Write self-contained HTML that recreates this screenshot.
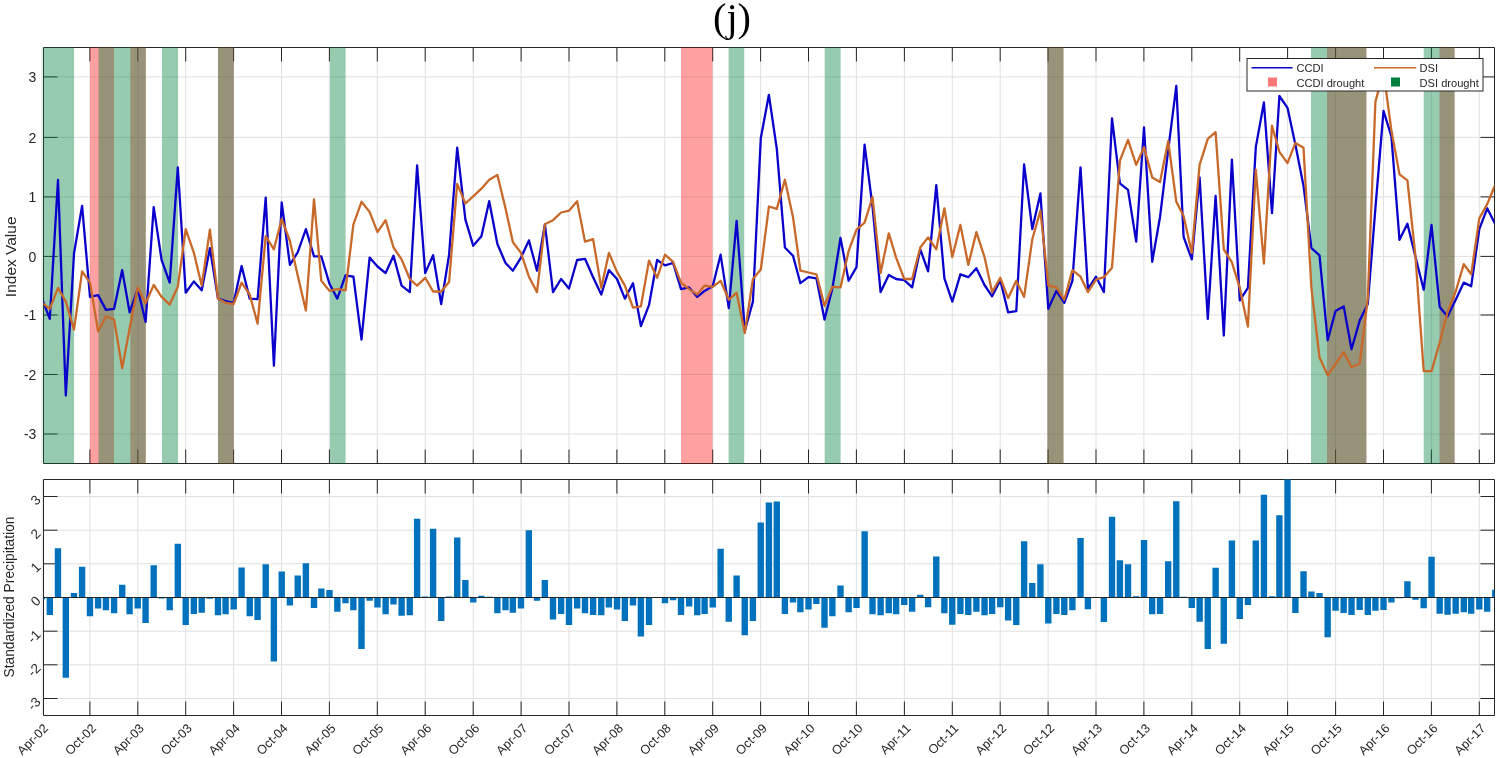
<!DOCTYPE html><html><head><meta charset="utf-8"><style>html,body{margin:0;padding:0;background:#fff;}svg{display:block;will-change:transform;}text{font-family:"Liberation Sans",sans-serif;fill:#262626;}</style></head><body>
<svg width="1498" height="758" viewBox="0 0 1498 758">
<rect width="1498" height="758" fill="#fff"/>
<text x="732" y="31" text-anchor="middle" style="font-family:'Liberation Serif',serif;font-size:40.4px;fill:#000">(j)</text>
<defs><clipPath id="ct"><rect x="43.5" y="47.5" width="1451.0" height="416.0"/></clipPath>
<clipPath id="cb"><rect x="43.5" y="479.5" width="1451.0" height="236.0"/></clipPath></defs>
<path d="M42.0 47.5V463.5M42.0 479.5V715.5M89.9 47.5V463.5M89.9 479.5V715.5M137.8 47.5V463.5M137.8 479.5V715.5M185.7 47.5V463.5M185.7 479.5V715.5M233.6 47.5V463.5M233.6 479.5V715.5M281.5 47.5V463.5M281.5 479.5V715.5M329.4 47.5V463.5M329.4 479.5V715.5M377.3 47.5V463.5M377.3 479.5V715.5M425.2 47.5V463.5M425.2 479.5V715.5M473.2 47.5V463.5M473.2 479.5V715.5M521.1 47.5V463.5M521.1 479.5V715.5M569.0 47.5V463.5M569.0 479.5V715.5M616.9 47.5V463.5M616.9 479.5V715.5M664.8 47.5V463.5M664.8 479.5V715.5M712.7 47.5V463.5M712.7 479.5V715.5M760.6 47.5V463.5M760.6 479.5V715.5M808.5 47.5V463.5M808.5 479.5V715.5M856.4 47.5V463.5M856.4 479.5V715.5M904.4 47.5V463.5M904.4 479.5V715.5M952.3 47.5V463.5M952.3 479.5V715.5M1000.2 47.5V463.5M1000.2 479.5V715.5M1048.1 47.5V463.5M1048.1 479.5V715.5M1096.0 47.5V463.5M1096.0 479.5V715.5M1143.9 47.5V463.5M1143.9 479.5V715.5M1191.8 47.5V463.5M1191.8 479.5V715.5M1239.7 47.5V463.5M1239.7 479.5V715.5M1287.6 47.5V463.5M1287.6 479.5V715.5M1335.6 47.5V463.5M1335.6 479.5V715.5M1383.5 47.5V463.5M1383.5 479.5V715.5M1431.4 47.5V463.5M1431.4 479.5V715.5M1479.3 47.5V463.5M1479.3 479.5V715.5M43.5 434.0H1494.5M43.5 698.5H1494.5M43.5 374.5H1494.5M43.5 664.8H1494.5M43.5 315.0H1494.5M43.5 631.2H1494.5M43.5 256.4H1494.5M43.5 597.5H1494.5M43.5 196.9H1494.5M43.5 563.8H1494.5M43.5 137.4H1494.5M43.5 530.2H1494.5M43.5 76.9H1494.5M43.5 496.5H1494.5" stroke="#e0e0e0" stroke-width="1" fill="none"/>
<path d="M43.5 47.5H1494.5V463.5H43.5ZM89.9 47.5v14M89.9 463.5v-14M137.8 47.5v14M137.8 463.5v-14M185.7 47.5v14M185.7 463.5v-14M233.6 47.5v14M233.6 463.5v-14M281.5 47.5v14M281.5 463.5v-14M329.4 47.5v14M329.4 463.5v-14M377.3 47.5v14M377.3 463.5v-14M425.2 47.5v14M425.2 463.5v-14M473.2 47.5v14M473.2 463.5v-14M521.1 47.5v14M521.1 463.5v-14M569.0 47.5v14M569.0 463.5v-14M616.9 47.5v14M616.9 463.5v-14M664.8 47.5v14M664.8 463.5v-14M712.7 47.5v14M712.7 463.5v-14M760.6 47.5v14M760.6 463.5v-14M808.5 47.5v14M808.5 463.5v-14M856.4 47.5v14M856.4 463.5v-14M904.4 47.5v14M904.4 463.5v-14M952.3 47.5v14M952.3 463.5v-14M1000.2 47.5v14M1000.2 463.5v-14M1048.1 47.5v14M1048.1 463.5v-14M1096.0 47.5v14M1096.0 463.5v-14M1143.9 47.5v14M1143.9 463.5v-14M1191.8 47.5v14M1191.8 463.5v-14M1239.7 47.5v14M1239.7 463.5v-14M1287.6 47.5v14M1287.6 463.5v-14M1335.6 47.5v14M1335.6 463.5v-14M1383.5 47.5v14M1383.5 463.5v-14M1431.4 47.5v14M1431.4 463.5v-14M1479.3 47.5v14M1479.3 463.5v-14M43.5 434.0h14M1494.5 434.0h-14M43.5 374.5h14M1494.5 374.5h-14M43.5 315.0h14M1494.5 315.0h-14M43.5 256.4h14M1494.5 256.4h-14M43.5 196.9h14M1494.5 196.9h-14M43.5 137.4h14M1494.5 137.4h-14M43.5 76.9h14M1494.5 76.9h-14M43.5 479.5H1494.5V715.5H43.5ZM89.9 479.5v14M89.9 715.5v-14M137.8 479.5v14M137.8 715.5v-14M185.7 479.5v14M185.7 715.5v-14M233.6 479.5v14M233.6 715.5v-14M281.5 479.5v14M281.5 715.5v-14M329.4 479.5v14M329.4 715.5v-14M377.3 479.5v14M377.3 715.5v-14M425.2 479.5v14M425.2 715.5v-14M473.2 479.5v14M473.2 715.5v-14M521.1 479.5v14M521.1 715.5v-14M569.0 479.5v14M569.0 715.5v-14M616.9 479.5v14M616.9 715.5v-14M664.8 479.5v14M664.8 715.5v-14M712.7 479.5v14M712.7 715.5v-14M760.6 479.5v14M760.6 715.5v-14M808.5 479.5v14M808.5 715.5v-14M856.4 479.5v14M856.4 715.5v-14M904.4 479.5v14M904.4 715.5v-14M952.3 479.5v14M952.3 715.5v-14M1000.2 479.5v14M1000.2 715.5v-14M1048.1 479.5v14M1048.1 715.5v-14M1096.0 479.5v14M1096.0 715.5v-14M1143.9 479.5v14M1143.9 715.5v-14M1191.8 479.5v14M1191.8 715.5v-14M1239.7 479.5v14M1239.7 715.5v-14M1287.6 479.5v14M1287.6 715.5v-14M1335.6 479.5v14M1335.6 715.5v-14M1383.5 479.5v14M1383.5 715.5v-14M1431.4 479.5v14M1431.4 715.5v-14M1479.3 479.5v14M1479.3 715.5v-14M43.5 698.5h14M1494.5 698.5h-14M43.5 664.8h14M1494.5 664.8h-14M43.5 631.2h14M1494.5 631.2h-14M43.5 597.5h14M1494.5 597.5h-14M43.5 563.8h14M1494.5 563.8h-14M43.5 530.2h14M1494.5 530.2h-14M43.5 496.5h14M1494.5 496.5h-14" stroke="#262626" stroke-width="1" fill="none"/>
<rect x="90.0" y="47.5" width="24.0" height="416.0" fill="#ff0000" fill-opacity="0.37"/>
<rect x="130.3" y="47.5" width="15.5" height="416.0" fill="#ff0000" fill-opacity="0.37"/>
<rect x="218.0" y="47.5" width="15.7" height="416.0" fill="#ff0000" fill-opacity="0.37"/>
<rect x="681.0" y="47.5" width="31.5" height="416.0" fill="#ff0000" fill-opacity="0.37"/>
<rect x="1047.4" y="47.5" width="16.1" height="416.0" fill="#ff0000" fill-opacity="0.37"/>
<rect x="1327.0" y="47.5" width="39.4" height="416.0" fill="#ff0000" fill-opacity="0.37"/>
<rect x="1439.5" y="47.5" width="15.1" height="416.0" fill="#ff0000" fill-opacity="0.37"/>
<rect x="43.2" y="47.5" width="30.9" height="416.0" fill="#00803f" fill-opacity="0.41"/>
<rect x="98.5" y="47.5" width="47.3" height="416.0" fill="#00803f" fill-opacity="0.41"/>
<rect x="162.0" y="47.5" width="16.1" height="416.0" fill="#00803f" fill-opacity="0.41"/>
<rect x="218.0" y="47.5" width="15.7" height="416.0" fill="#00803f" fill-opacity="0.41"/>
<rect x="330.0" y="47.5" width="15.6" height="416.0" fill="#00803f" fill-opacity="0.41"/>
<rect x="728.6" y="47.5" width="15.6" height="416.0" fill="#00803f" fill-opacity="0.41"/>
<rect x="824.7" y="47.5" width="15.9" height="416.0" fill="#00803f" fill-opacity="0.41"/>
<rect x="1047.4" y="47.5" width="16.1" height="416.0" fill="#00803f" fill-opacity="0.41"/>
<rect x="1311.0" y="47.5" width="55.4" height="416.0" fill="#00803f" fill-opacity="0.41"/>
<rect x="1423.7" y="47.5" width="30.9" height="416.0" fill="#00803f" fill-opacity="0.41"/>
<polyline clip-path="url(#ct)" points="42.0,298.6 49.8,318.9 58.0,179.8 65.8,395.5 74.0,253.5 82.1,205.9 90.0,296.9 98.1,295.1 106.0,309.9 114.1,308.8 122.2,270.1 129.6,312.3 137.7,289.1 145.6,321.8 153.7,207.1 161.6,260.0 169.7,282.6 177.8,167.3 185.7,292.7 193.9,281.4 201.7,290.3 209.9,248.1 218.0,298.6 225.6,301.0 233.7,302.8 241.6,266.0 249.7,298.6 257.6,299.2 265.7,197.6 273.9,365.8 281.7,202.4 289.9,264.8 297.7,252.3 305.9,229.1 314.0,256.4 321.3,256.4 329.5,283.8 337.3,298.6 345.5,275.5 353.4,276.7 361.5,339.7 369.6,257.6 377.5,266.5 385.6,273.1 393.5,255.8 401.6,285.6 409.8,292.1 417.1,165.5 425.2,273.1 433.1,255.3 441.2,304.0 449.1,254.7 457.2,147.7 465.4,219.6 473.2,245.7 481.4,236.2 489.2,201.2 497.4,244.0 505.5,263.0 512.9,270.7 521.0,257.6 528.9,240.4 537.0,270.7 544.9,224.3 553.0,292.1 561.1,279.0 569.0,288.5 577.1,260.0 585.0,258.8 593.1,277.2 601.3,294.5 608.9,270.1 617.0,279.0 624.9,298.6 633.0,283.2 640.9,326.0 649.0,305.2 657.1,260.0 665.0,265.4 673.1,263.0 681.0,289.1 689.1,287.4 697.3,296.9 704.6,290.9 712.7,286.2 720.6,254.7 728.8,308.2 736.6,220.8 744.8,330.7 752.9,301.6 760.8,138.2 768.9,94.8 776.8,148.9 784.9,247.5 793.0,255.8 800.4,283.2 808.5,277.2 816.4,278.4 824.5,319.5 832.4,288.5 840.5,238.0 848.6,280.8 856.5,267.1 864.6,144.7 872.5,206.5 880.6,292.1 888.8,274.9 896.1,279.0 904.3,280.2 912.1,287.4 920.3,249.3 928.1,271.3 936.3,185.1 944.4,278.4 952.3,301.6 960.4,274.3 968.3,277.2 976.4,268.3 984.5,285.0 992.1,296.3 1000.3,280.2 1008.1,312.3 1016.3,311.1 1024.1,164.3 1032.3,229.1 1040.4,193.4 1048.3,308.8 1056.4,290.9 1064.3,302.8 1072.4,280.8 1080.5,167.3 1087.9,289.1 1096.0,276.7 1103.9,292.1 1112.0,118.5 1119.9,183.3 1128.0,189.9 1136.2,241.6 1144.0,127.5 1152.2,261.8 1160.0,217.2 1168.2,150.0 1176.3,85.9 1183.6,236.8 1191.8,259.4 1199.6,177.4 1207.8,318.9 1215.6,195.8 1223.8,335.5 1231.9,159.6 1239.8,300.4 1247.9,287.9 1255.8,147.1 1263.9,102.5 1272.0,213.1 1279.4,96.0 1287.5,107.8 1295.4,144.7 1303.5,185.7 1311.4,248.1 1319.5,255.3 1327.7,340.3 1335.5,311.1 1343.7,306.4 1351.5,349.2 1359.7,320.6 1367.8,304.0 1375.4,208.3 1383.5,110.8 1391.4,136.4 1399.5,239.8 1407.4,223.8 1415.5,257.0 1423.7,289.7 1431.5,224.9 1439.7,307.0 1447.5,316.5 1455.7,299.8 1463.8,282.6 1471.2,286.2 1479.3,229.1 1487.2,208.3 1495.3,224.3" fill="none" stroke="#0a00cc" stroke-width="2.3" stroke-linejoin="round"/>
<polyline clip-path="url(#ct)" points="42.0,302.8 49.8,308.8 58.0,287.9 65.8,301.6 74.0,329.6 82.1,271.3 90.0,282.6 98.1,331.3 106.0,316.5 114.1,319.5 122.2,368.2 129.6,328.4 137.7,287.4 145.6,303.4 153.7,285.0 161.6,296.9 169.7,304.6 177.8,286.8 185.7,229.1 193.9,252.9 201.7,285.6 209.9,229.7 218.0,298.6 225.6,302.8 233.7,304.0 241.6,282.6 249.7,294.5 257.6,323.6 265.7,236.2 273.9,249.3 281.7,219.0 289.9,241.0 297.7,275.5 305.9,310.5 314.0,199.4 321.3,280.8 329.5,290.9 337.3,289.1 345.5,290.3 353.4,224.3 361.5,201.8 369.6,211.9 377.5,232.1 385.6,220.2 393.5,247.5 401.6,259.4 409.8,279.0 417.1,285.6 425.2,277.8 433.1,291.5 441.2,291.5 449.1,282.0 457.2,183.9 465.4,203.5 473.2,196.4 481.4,188.7 489.2,179.8 497.4,175.0 505.5,208.3 512.9,242.2 521.0,252.9 528.9,276.7 537.0,292.1 544.9,224.3 553.0,220.2 561.1,212.5 569.0,210.7 577.1,201.2 585.0,241.6 593.1,239.2 601.3,287.9 608.9,252.9 617.0,271.9 624.9,285.6 633.0,307.6 640.9,306.4 649.0,260.6 657.1,277.8 665.0,254.7 673.1,261.8 681.0,282.6 689.1,289.1 697.3,294.5 704.6,285.6 712.7,286.8 720.6,280.8 728.8,299.8 736.6,292.7 744.8,333.1 752.9,279.0 760.8,269.5 768.9,206.5 776.8,208.9 784.9,179.8 793.0,217.2 800.4,270.7 808.5,272.5 816.4,274.3 824.5,305.8 832.4,286.8 840.5,287.4 848.6,251.1 856.5,229.7 864.6,222.6 872.5,197.0 880.6,273.1 888.8,233.3 896.1,257.6 904.3,279.0 912.1,279.0 920.3,247.5 928.1,237.4 936.3,249.3 944.4,208.3 952.3,257.0 960.4,224.9 968.3,264.8 976.4,232.1 984.5,257.0 992.1,292.1 1000.3,277.8 1008.1,298.1 1016.3,280.8 1024.1,296.9 1032.3,239.2 1040.4,210.7 1048.3,285.6 1056.4,287.4 1064.3,299.8 1072.4,270.1 1080.5,276.7 1087.9,292.1 1096.0,279.6 1103.9,277.2 1112.0,267.7 1119.9,160.7 1128.0,139.9 1136.2,164.9 1144.0,147.1 1152.2,177.4 1160.0,182.1 1168.2,141.1 1176.3,201.8 1183.6,216.0 1191.8,252.9 1199.6,164.9 1207.8,138.8 1215.6,132.2 1223.8,249.3 1231.9,262.4 1239.8,287.9 1247.9,326.6 1255.8,169.7 1263.9,263.6 1272.0,125.7 1279.4,151.8 1287.5,163.1 1295.4,142.9 1303.5,147.7 1311.4,287.9 1319.5,357.5 1327.7,375.3 1335.5,364.0 1343.7,352.1 1351.5,367.0 1359.7,364.0 1367.8,298.1 1375.4,101.9 1383.5,71.6 1391.4,130.4 1399.5,174.4 1407.4,180.4 1415.5,257.0 1423.7,371.2 1431.5,371.2 1439.7,342.6 1447.5,312.3 1455.7,291.5 1463.8,264.2 1471.2,274.3 1479.3,218.4 1487.2,204.1 1495.3,184.5" fill="none" stroke="#c8692a" stroke-width="2.3" stroke-linejoin="round"/>
<text x="36.4" y="434.4" text-anchor="end" style="font-size:14px" dominant-baseline="central">-3</text>
<text x="36.4" y="374.9" text-anchor="end" style="font-size:14px" dominant-baseline="central">-2</text>
<text x="36.4" y="315.4" text-anchor="end" style="font-size:14px" dominant-baseline="central">-1</text>
<text x="36.4" y="256.8" text-anchor="end" style="font-size:14px" dominant-baseline="central">0</text>
<text x="36.4" y="197.3" text-anchor="end" style="font-size:14px" dominant-baseline="central">1</text>
<text x="36.4" y="137.8" text-anchor="end" style="font-size:14px" dominant-baseline="central">2</text>
<text x="36.4" y="77.3" text-anchor="end" style="font-size:14px" dominant-baseline="central">3</text>
<text transform="translate(16,256.8) rotate(-90)" text-anchor="middle" style="font-size:15.5px">Index Value</text>
<rect x="1247" y="58.5" width="236" height="32.5" fill="#fff" stroke="#262626" stroke-width="1"/>
<path d="M1251.5 67.7H1292.6" stroke="#0a00cc" stroke-width="1.5"/>
<path d="M1374 67.7H1416.3" stroke="#c8692a" stroke-width="1.5"/>
<rect x="1268" y="77.5" width="9" height="9" fill="#ff7878"/>
<rect x="1391" y="77.5" width="9" height="9" fill="#00803f"/>
<text x="1296.5" y="71.8" style="font-size:11.1px">CCDI</text>
<text x="1419.6" y="71.8" style="font-size:11.1px">DSI</text>
<text x="1296.5" y="87.3" style="font-size:11.1px">CCDI drought</text>
<text x="1419.6" y="87.3" style="font-size:11.1px">DSI drought</text>
<path clip-path="url(#cb)" d="M38.77 597.50h6.38v1.68h-6.38ZM46.64 597.50h6.38v17.51h-6.38ZM54.77 548.34h6.38v49.16h-6.38ZM62.64 597.50h6.38v80.13h-6.38ZM70.77 593.12h6.38v4.38h-6.38ZM78.91 566.86h6.38v30.64h-6.38ZM86.78 597.50h6.38v18.86h-6.38ZM94.91 597.50h6.38v11.11h-6.38ZM102.78 597.50h6.38v12.79h-6.38ZM110.91 597.50h6.38v15.82h-6.38ZM119.04 584.71h6.38v12.79h-6.38ZM126.39 597.50h6.38v16.84h-6.38ZM134.52 597.50h6.38v11.11h-6.38ZM142.39 597.50h6.38v25.59h-6.38ZM150.52 565.18h6.38v32.32h-6.38ZM158.39 597.50h6.38v1.01h-6.38ZM166.53 597.50h6.38v12.79h-6.38ZM174.66 543.63h6.38v53.87h-6.38ZM182.53 597.50h6.38v27.61h-6.38ZM190.66 597.50h6.38v16.50h-6.38ZM198.53 597.50h6.38v15.15h-6.38ZM206.66 597.50h6.38v1.35h-6.38ZM214.80 597.50h6.38v17.85h-6.38ZM222.40 597.50h6.38v16.84h-6.38ZM230.54 597.50h6.38v12.12h-6.38ZM238.41 567.53h6.38v29.97h-6.38ZM246.54 597.50h6.38v18.86h-6.38ZM254.41 597.50h6.38v22.56h-6.38ZM262.54 564.17h6.38v33.33h-6.38ZM270.67 597.50h6.38v63.97h-6.38ZM278.54 571.57h6.38v25.93h-6.38ZM286.68 597.50h6.38v8.08h-6.38ZM294.55 575.61h6.38v21.89h-6.38ZM302.68 563.16h6.38v34.34h-6.38ZM310.81 597.50h6.38v10.44h-6.38ZM318.16 588.41h6.38v9.09h-6.38ZM326.29 590.09h6.38v7.41h-6.38ZM334.16 597.50h6.38v14.14h-6.38ZM342.29 597.50h6.38v5.72h-6.38ZM350.16 597.50h6.38v12.79h-6.38ZM358.29 597.50h6.38v51.52h-6.38ZM366.43 597.50h6.38v3.37h-6.38ZM374.30 597.50h6.38v10.10h-6.38ZM382.43 597.50h6.38v16.84h-6.38ZM390.30 597.50h6.38v7.07h-6.38ZM398.43 597.50h6.38v18.18h-6.38ZM406.56 597.50h6.38v17.85h-6.38ZM413.91 518.71h6.38v78.79h-6.38ZM422.04 596.49h6.38v1.01h-6.38ZM429.91 528.81h6.38v68.69h-6.38ZM438.04 597.50h6.38v23.57h-6.38ZM445.91 596.49h6.38v1.01h-6.38ZM454.04 537.57h6.38v59.93h-6.38ZM462.18 579.99h6.38v17.51h-6.38ZM470.05 597.50h6.38v5.05h-6.38ZM478.18 595.82h6.38v1.68h-6.38ZM486.05 596.83h6.38v0.67h-6.38ZM494.18 597.50h6.38v15.82h-6.38ZM502.31 597.50h6.38v12.79h-6.38ZM509.66 597.50h6.38v15.15h-6.38ZM517.79 597.50h6.38v11.11h-6.38ZM525.66 530.16h6.38v67.34h-6.38ZM533.79 597.50h6.38v3.37h-6.38ZM541.66 579.99h6.38v17.51h-6.38ZM549.80 597.50h6.38v21.89h-6.38ZM557.93 597.50h6.38v16.50h-6.38ZM565.80 597.50h6.38v27.61h-6.38ZM573.93 597.50h6.38v11.11h-6.38ZM581.80 597.50h6.38v15.82h-6.38ZM589.93 597.50h6.38v17.51h-6.38ZM598.07 597.50h6.38v17.85h-6.38ZM605.67 597.50h6.38v10.10h-6.38ZM613.81 597.50h6.38v12.12h-6.38ZM621.68 597.50h6.38v23.57h-6.38ZM629.81 597.50h6.38v8.08h-6.38ZM637.68 597.50h6.38v39.06h-6.38ZM645.81 597.50h6.38v27.61h-6.38ZM653.94 597.50h6.38v0.00h-6.38ZM661.81 597.50h6.38v5.72h-6.38ZM669.95 597.50h6.38v2.69h-6.38ZM677.82 597.50h6.38v17.51h-6.38ZM685.95 597.50h6.38v9.09h-6.38ZM694.08 597.50h6.38v17.85h-6.38ZM701.43 597.50h6.38v16.50h-6.38ZM709.56 597.50h6.38v10.10h-6.38ZM717.43 548.68h6.38v48.82h-6.38ZM725.56 597.50h6.38v24.24h-6.38ZM733.43 575.61h6.38v21.89h-6.38ZM741.56 597.50h6.38v37.71h-6.38ZM749.70 597.50h6.38v23.57h-6.38ZM757.57 522.42h6.38v75.08h-6.38ZM765.70 502.55h6.38v94.95h-6.38ZM773.57 501.54h6.38v95.96h-6.38ZM781.70 597.50h6.38v16.50h-6.38ZM789.83 597.50h6.38v5.05h-6.38ZM797.18 597.50h6.38v14.81h-6.38ZM805.31 597.50h6.38v12.12h-6.38ZM813.18 597.50h6.38v6.40h-6.38ZM821.31 597.50h6.38v30.30h-6.38ZM829.18 597.50h6.38v18.86h-6.38ZM837.32 585.38h6.38v12.12h-6.38ZM845.45 597.50h6.38v14.81h-6.38ZM853.32 597.50h6.38v10.44h-6.38ZM861.45 531.17h6.38v66.33h-6.38ZM869.32 597.50h6.38v16.84h-6.38ZM877.45 597.50h6.38v17.85h-6.38ZM885.58 597.50h6.38v15.82h-6.38ZM892.93 597.50h6.38v16.84h-6.38ZM901.06 597.50h6.38v7.41h-6.38ZM908.93 597.50h6.38v14.14h-6.38ZM917.07 594.81h6.38v2.69h-6.38ZM924.94 597.50h6.38v9.76h-6.38ZM933.07 556.42h6.38v41.08h-6.38ZM941.20 597.50h6.38v15.82h-6.38ZM949.07 597.50h6.38v27.27h-6.38ZM957.20 597.50h6.38v16.50h-6.38ZM965.07 597.50h6.38v17.51h-6.38ZM973.20 597.50h6.38v14.14h-6.38ZM981.34 597.50h6.38v17.85h-6.38ZM988.94 597.50h6.38v16.50h-6.38ZM997.08 597.50h6.38v9.76h-6.38ZM1004.95 597.50h6.38v22.90h-6.38ZM1013.08 597.50h6.38v27.61h-6.38ZM1020.95 541.27h6.38v56.23h-6.38ZM1029.08 583.02h6.38v14.48h-6.38ZM1037.21 564.17h6.38v33.33h-6.38ZM1045.08 597.50h6.38v25.93h-6.38ZM1053.22 597.50h6.38v16.50h-6.38ZM1061.09 597.50h6.38v17.51h-6.38ZM1069.22 597.50h6.38v12.79h-6.38ZM1077.35 537.90h6.38v59.60h-6.38ZM1084.70 597.50h6.38v11.78h-6.38ZM1092.83 597.50h6.38v0.00h-6.38ZM1100.70 597.50h6.38v24.58h-6.38ZM1108.83 516.69h6.38v80.81h-6.38ZM1116.70 560.13h6.38v37.37h-6.38ZM1124.83 564.17h6.38v33.33h-6.38ZM1132.97 596.15h6.38v1.35h-6.38ZM1140.84 539.92h6.38v57.58h-6.38ZM1148.97 597.50h6.38v16.84h-6.38ZM1156.84 597.50h6.38v16.50h-6.38ZM1164.97 561.14h6.38v36.36h-6.38ZM1173.10 501.20h6.38v96.30h-6.38ZM1180.45 596.83h6.38v0.67h-6.38ZM1188.58 597.50h6.38v10.44h-6.38ZM1196.45 597.50h6.38v24.24h-6.38ZM1204.58 597.50h6.38v51.52h-6.38ZM1212.45 567.87h6.38v29.63h-6.38ZM1220.59 597.50h6.38v46.13h-6.38ZM1228.72 540.60h6.38v56.90h-6.38ZM1236.59 597.50h6.38v21.55h-6.38ZM1244.72 597.50h6.38v7.41h-6.38ZM1252.59 540.60h6.38v56.90h-6.38ZM1260.72 494.81h6.38v102.69h-6.38ZM1268.86 596.15h6.38v1.35h-6.38ZM1276.20 515.35h6.38v82.15h-6.38ZM1284.33 476.29h6.38v121.21h-6.38ZM1292.20 597.50h6.38v15.49h-6.38ZM1300.34 571.24h6.38v26.26h-6.38ZM1308.21 591.44h6.38v6.06h-6.38ZM1316.34 593.12h6.38v4.38h-6.38ZM1324.47 597.50h6.38v39.73h-6.38ZM1332.34 597.50h6.38v13.13h-6.38ZM1340.47 597.50h6.38v15.49h-6.38ZM1348.34 597.50h6.38v17.51h-6.38ZM1356.48 597.50h6.38v12.46h-6.38ZM1364.61 597.50h6.38v17.51h-6.38ZM1372.22 597.50h6.38v13.13h-6.38ZM1380.35 597.50h6.38v12.46h-6.38ZM1388.22 597.50h6.38v5.05h-6.38ZM1396.35 597.50h6.38v0.67h-6.38ZM1404.22 581.34h6.38v16.16h-6.38ZM1412.35 597.50h6.38v2.36h-6.38ZM1420.48 597.50h6.38v10.77h-6.38ZM1428.35 556.76h6.38v40.74h-6.38ZM1436.49 597.50h6.38v16.16h-6.38ZM1444.36 597.50h6.38v17.17h-6.38ZM1452.49 597.50h6.38v16.16h-6.38ZM1460.62 597.50h6.38v14.81h-6.38ZM1467.97 597.50h6.38v16.16h-6.38ZM1476.10 597.50h6.38v12.12h-6.38ZM1483.97 597.50h6.38v14.14h-6.38ZM1492.10 589.76h6.38v7.74h-6.38Z" fill="#0072bd"/>
<path d="M43.5 597.5H1494.5" stroke="#262626" stroke-width="1"/>
<text transform="translate(38.3,699.5) rotate(-45)" text-anchor="end" style="font-size:13.5px" dominant-baseline="central">-3</text>
<text transform="translate(38.3,665.8) rotate(-45)" text-anchor="end" style="font-size:13.5px" dominant-baseline="central">-2</text>
<text transform="translate(38.3,632.2) rotate(-45)" text-anchor="end" style="font-size:13.5px" dominant-baseline="central">-1</text>
<text transform="translate(38.3,598.5) rotate(-45)" text-anchor="end" style="font-size:13.5px" dominant-baseline="central">0</text>
<text transform="translate(38.3,564.8) rotate(-45)" text-anchor="end" style="font-size:13.5px" dominant-baseline="central">1</text>
<text transform="translate(38.3,531.2) rotate(-45)" text-anchor="end" style="font-size:13.5px" dominant-baseline="central">2</text>
<text transform="translate(38.3,497.5) rotate(-45)" text-anchor="end" style="font-size:13.5px" dominant-baseline="central">3</text>
<text transform="translate(13.8,597) rotate(-90)" text-anchor="middle" style="font-size:13.8px">Standardized Precipitation</text>
<text transform="translate(49.0,729) rotate(-45)" text-anchor="end" style="font-size:12.6px">Apr-02</text>
<text transform="translate(96.9,729) rotate(-45)" text-anchor="end" style="font-size:12.6px">Oct-02</text>
<text transform="translate(144.8,729) rotate(-45)" text-anchor="end" style="font-size:12.6px">Apr-03</text>
<text transform="translate(192.7,729) rotate(-45)" text-anchor="end" style="font-size:12.6px">Oct-03</text>
<text transform="translate(240.6,729) rotate(-45)" text-anchor="end" style="font-size:12.6px">Apr-04</text>
<text transform="translate(288.5,729) rotate(-45)" text-anchor="end" style="font-size:12.6px">Oct-04</text>
<text transform="translate(336.4,729) rotate(-45)" text-anchor="end" style="font-size:12.6px">Apr-05</text>
<text transform="translate(384.3,729) rotate(-45)" text-anchor="end" style="font-size:12.6px">Oct-05</text>
<text transform="translate(432.2,729) rotate(-45)" text-anchor="end" style="font-size:12.6px">Apr-06</text>
<text transform="translate(480.2,729) rotate(-45)" text-anchor="end" style="font-size:12.6px">Oct-06</text>
<text transform="translate(528.1,729) rotate(-45)" text-anchor="end" style="font-size:12.6px">Apr-07</text>
<text transform="translate(576.0,729) rotate(-45)" text-anchor="end" style="font-size:12.6px">Oct-07</text>
<text transform="translate(623.9,729) rotate(-45)" text-anchor="end" style="font-size:12.6px">Apr-08</text>
<text transform="translate(671.8,729) rotate(-45)" text-anchor="end" style="font-size:12.6px">Oct-08</text>
<text transform="translate(719.7,729) rotate(-45)" text-anchor="end" style="font-size:12.6px">Apr-09</text>
<text transform="translate(767.6,729) rotate(-45)" text-anchor="end" style="font-size:12.6px">Oct-09</text>
<text transform="translate(815.5,729) rotate(-45)" text-anchor="end" style="font-size:12.6px">Apr-10</text>
<text transform="translate(863.4,729) rotate(-45)" text-anchor="end" style="font-size:12.6px">Oct-10</text>
<text transform="translate(911.4,729) rotate(-45)" text-anchor="end" style="font-size:12.6px">Apr-11</text>
<text transform="translate(959.3,729) rotate(-45)" text-anchor="end" style="font-size:12.6px">Oct-11</text>
<text transform="translate(1007.2,729) rotate(-45)" text-anchor="end" style="font-size:12.6px">Apr-12</text>
<text transform="translate(1055.1,729) rotate(-45)" text-anchor="end" style="font-size:12.6px">Oct-12</text>
<text transform="translate(1103.0,729) rotate(-45)" text-anchor="end" style="font-size:12.6px">Apr-13</text>
<text transform="translate(1150.9,729) rotate(-45)" text-anchor="end" style="font-size:12.6px">Oct-13</text>
<text transform="translate(1198.8,729) rotate(-45)" text-anchor="end" style="font-size:12.6px">Apr-14</text>
<text transform="translate(1246.7,729) rotate(-45)" text-anchor="end" style="font-size:12.6px">Oct-14</text>
<text transform="translate(1294.6,729) rotate(-45)" text-anchor="end" style="font-size:12.6px">Apr-15</text>
<text transform="translate(1342.6,729) rotate(-45)" text-anchor="end" style="font-size:12.6px">Oct-15</text>
<text transform="translate(1390.5,729) rotate(-45)" text-anchor="end" style="font-size:12.6px">Apr-16</text>
<text transform="translate(1438.4,729) rotate(-45)" text-anchor="end" style="font-size:12.6px">Oct-16</text>
<text transform="translate(1486.3,729) rotate(-45)" text-anchor="end" style="font-size:12.6px">Apr-17</text>
</svg></body></html>
